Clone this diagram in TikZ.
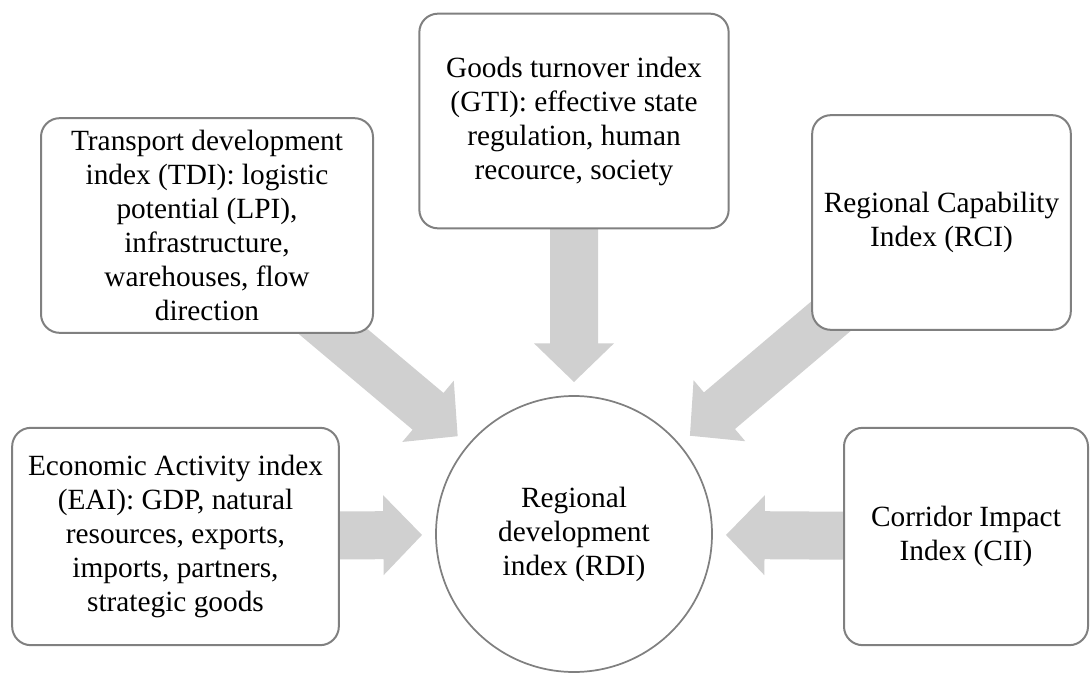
\documentclass[tikz,border=0pt]{standalone}
\usepackage{fontspec}
\setmainfont{Liberation Serif}
\usetikzlibrary{calc,backgrounds}
\definecolor{boxline}{RGB}{128,128,128}
\definecolor{arrowfill}{RGB}{208,208,208}

\tikzset{
  idxbox/.style={draw=boxline, line width=1.5pt, rounded corners=14pt, fill=white,
    align=center, inner sep=4pt, font=\fontsize{22}{25.5}\selectfont},
  hub/.style={draw=boxline, line width=1.3pt, circle, fill=white, minimum size=207pt,
    align=center, inner sep=0pt, font=\fontsize{22}{25.5}\selectfont}
}

% block arrow: #1 tail, #2 tip
\newcommand\blockarrow[2]{%
  \fill[arrowfill] let \p1=($(#2)-(#1)$), \n1={atan2(\y1,\x1)}, \n2={veclen(\x1,\y1)} in
    [shift={(#2)}, rotate=\n1] (0pt,0pt) -- (-29pt,30pt) -- (-29pt,18pt)
    -- ({-1pt*\n2},18pt) -- ({-1pt*\n2},-18pt) -- (-29pt,-18pt) -- (-29pt,-30pt) -- cycle;}

\begin{document}
\begin{tikzpicture}[x=0.75pt,y=-0.75pt]
        \useasboundingbox (0,0) rectangle (1090,674);

        \node[hub] (rdi) at (574,534) {Regional\\ development\\ index (RDI)};

        \node[idxbox, minimum width=249pt, minimum height=161pt] (tdi) at (207,225.5)
          {Transport development\\ index (TDI): logistic\\ potential (LPI),\\ infrastructure,\\ warehouses, flow\\ direction};
        \node[idxbox, minimum width=232pt, minimum height=161pt] (gti) at (574,121)
          {Goods turnover index\\ (GTI): effective state\\ regulation, human\\ recource, society};
        \node[idxbox, minimum width=194pt, minimum height=161pt] (rci) at (941.5,222.5)
          {Regional Capability\\ Index (RCI)};
        \node[idxbox, minimum width=245pt, minimum height=163pt] (eai) at (175.5,536.5)
          {Economic Activity index\\ (EAI): GDP, natural\\ resources, exports,\\ imports, partners,\\ strategic goods};
        \node[idxbox, minimum width=183pt, minimum height=163pt] (cii) at (966,536.5)
          {Corridor Impact\\ Index (CII)};

        \begin{scope}[on background layer]
          \foreach \b in {tdi,gti,rci,eai,cii} {
            \coordinate (\b-tip) at ($(rdi.center)!114pt!(\b.center)$);
            \blockarrow{\b.center}{\b-tip}
          }
        \end{scope}

\end{tikzpicture}
\end{document}
